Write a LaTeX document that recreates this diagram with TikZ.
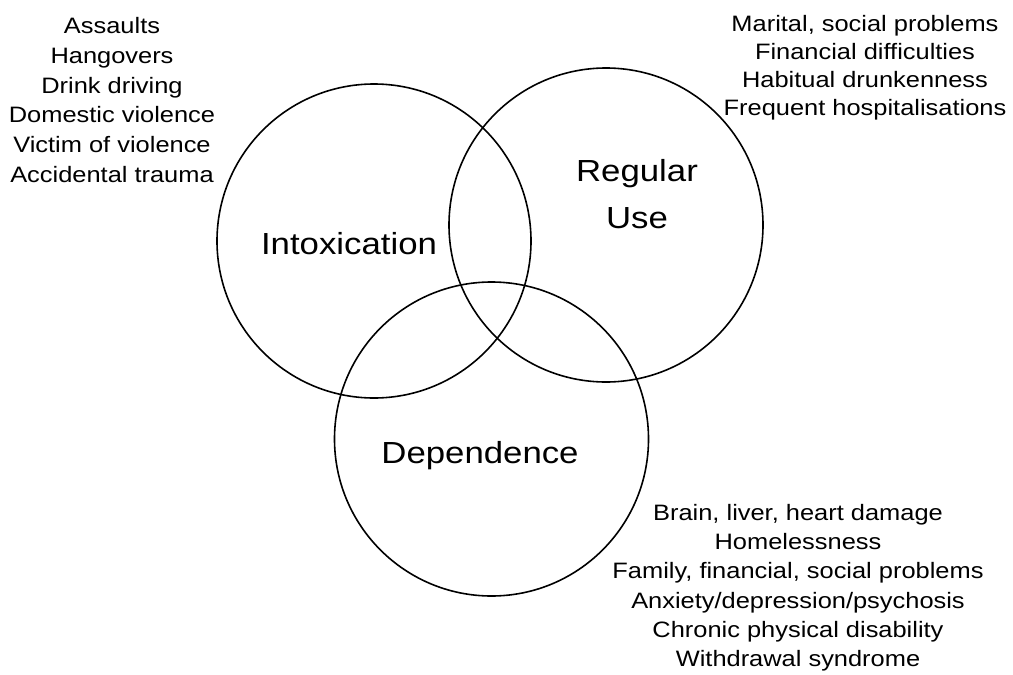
\documentclass[tikz,border=0pt]{standalone}
\usepackage{fontspec}
\setmainfont[FakeStretch=1.14]{Liberation Sans}

\begin{document}
\begin{tikzpicture}[x=1pt,y=-1pt,
  ring/.style={circle, draw, line width=1.6pt, minimum size=314pt, inner sep=0pt},
  biglabel/.style={font=\fontsize{30.5}{47}\selectfont, align=center, anchor=base, inner sep=0pt},
  harmlist/.style={align=center, anchor=base, inner sep=0pt}]
\useasboundingbox (0,0) rectangle (1013,675);

% the three overlapping domains
\node[ring] (intox) at (374,241) {};
\node[ring] (regular) at (606,225) {};
\node[ring] (depend) at (491.5,439) {};

% domain names (anchor base = baseline of the last line)
\node[biglabel] (intoxlabel) at (349,254) {Intoxication};
\node[biglabel] (regularlabel) at (637,228) {Regular\\Use};
\node[biglabel] (dependlabel) at (480,463) {Dependence};

% harms listed beside each domain
\node[harmlist, font=\fontsize{22.3}{29.9}\selectfont] (intoxharms) at (112,182.7)
  {Assaults\\Hangovers\\Drink driving\\Domestic violence\\Victim of violence\\Accidental trauma};
\node[harmlist, font=\fontsize{22.3}{27.8}\selectfont] (regularharms) at (865,115)
  {Marital, social problems\\Financial difficulties\\Habitual drunkenness\\Frequent hospitalisations};
\node[harmlist, font=\fontsize{22.3}{29.3}\selectfont] (dependharms) at (798,666.7)
  {Brain, liver, heart damage\\Homelessness\\Family, financial, social problems\\Anxiety/depression/psychosis\\Chronic physical disability\\Withdrawal syndrome};
\end{tikzpicture}
\end{document}
